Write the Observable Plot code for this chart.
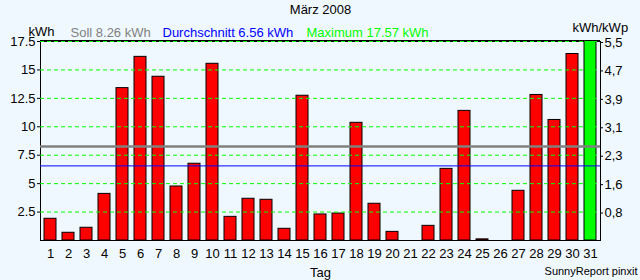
<!DOCTYPE html>
<html>
<head>
<meta charset="utf-8">
<script src="https://cdn.jsdelivr.net/npm/d3@7"></script>
<script src="https://cdn.jsdelivr.net/npm/@observablehq/plot@0.6"></script>
<style>
  html, body { margin: 0; padding: 0; background: #f0f8ff; }
</style>
</head>
<body>
<script>
const days = ["1","2","3","4","5","6","7","8","9","10","11","12","13","14","15","16","17","18","19","20","21","22","23","24","25","26","27","28","29","30","31"];
const kwh = [1.91, 0.68, 1.12, 4.10, 13.40, 16.15, 14.40, 4.75, 6.75, 15.54, 2.08, 3.67, 3.58, 1.03, 12.73, 2.29, 2.37, 10.35, 3.23, 0.76, 0, 1.29, 6.30, 11.40, 0.10, 0, 4.37, 12.80, 10.60, 16.40, 17.57];
const soll = 8.26;
const durchschnitt = 6.56;
const maximum = 17.57;
const leftTicks = [2.5, 5, 7.5, 10, 12.5, 15, 17.5];
const leftTickLabels = ["2.5", "5", "7.5", "10", "12.5", "15", "17.5"];
const rightTickLabels = ["0,8", "1,6", "2,3", "3,1", "3,9", "4,7", "5,5"];
const title = "März 2008";
const unitLeft = "kWh";
const unitRight = "kWh/kWp";
const sollLabel = "Soll 8.26 kWh";
const avgLabel = "Durchschnitt 6.56 kWh";
const maxLabel = "Maximum 17.57 kWh";
const xLabel = "Tag";
const credit = "SunnyReport pinxit";

const data = days.map((d, i) => ({day: d, kwh: kwh[i]}));
const isMax = d => d.kwh === maximum;

const chart = Plot.plot({
  width: 640,
  height: 280,
  marginTop: 41,
  marginBottom: 40,
  marginLeft: 40,
  marginRight: 40,
  style: {background: "#f0f8ff", fontFamily: "'Liberation Sans', Arial, sans-serif", fontSize: "13px", color: "black"},
  x: {type: "band", domain: days, paddingInner: 0.34, paddingOuter: 0.13},
  y: {domain: [0, 17.5]},
  marks: [
    Plot.frame({stroke: "black"}),
    Plot.barY(data, {filter: d => !isMax(d), x: "day", y: "kwh", fill: "#ff0000", stroke: "black", strokeWidth: 1}),
    Plot.barY(data, {filter: isMax, x: "day", y: "kwh", fill: "#00ff00", stroke: "black", strokeWidth: 1, clip: true}),
    Plot.ruleY(leftTicks, {stroke: "#00ff00", strokeDasharray: "4,3"}),
    Plot.ruleY([17.5], {stroke: "black", dy: -1}),
    Plot.ruleY([soll], {stroke: "#808080", strokeWidth: 2.5}),
    Plot.ruleY([durchschnitt], {stroke: "#0000ff", strokeWidth: 1}),
    Plot.axisX({tickSize: 0, tickPadding: 8, label: null}),
    Plot.axisY({ticks: leftTicks, tickSize: 3, tickPadding: 2, label: null, tickFormat: d => leftTickLabels[leftTicks.indexOf(d)]}),
    Plot.axisY({anchor: "right", ticks: leftTicks, tickSize: 2, tickPadding: 2, label: null, dy: 1, tickFormat: d => rightTickLabels[leftTicks.indexOf(d)]}),
    Plot.text([title], {text: d => d, frameAnchor: "top", lineAnchor: "bottom", dy: -28}),
    Plot.text([unitLeft], {text: d => d, frameAnchor: "top-left", textAnchor: "start", lineAnchor: "bottom", dx: -12, dy: -6}),
    Plot.text([sollLabel], {text: d => d, frameAnchor: "top-left", textAnchor: "start", lineAnchor: "bottom", dx: 30, dy: -5, fill: "#808080"}),
    Plot.text([avgLabel], {text: d => d, frameAnchor: "top-left", textAnchor: "start", lineAnchor: "bottom", dx: 122, dy: -5, fill: "#0000ff"}),
    Plot.text([maxLabel], {text: d => d, frameAnchor: "top-left", textAnchor: "start", lineAnchor: "bottom", dx: 266, dy: -5, fill: "#00ff00"}),
    Plot.text([unitRight], {text: d => d, frameAnchor: "top-right", textAnchor: "start", lineAnchor: "bottom", dx: -28, dy: -10}),
    Plot.text([xLabel], {text: d => d, frameAnchor: "bottom", lineAnchor: "bottom", dy: 36}),
    Plot.text([credit], {text: d => d, frameAnchor: "bottom-right", textAnchor: "end", lineAnchor: "bottom", dx: 37, dy: 34, fontSize: 11})
  ]
});
document.body.appendChild(chart);
</script>
</body>
</html>
